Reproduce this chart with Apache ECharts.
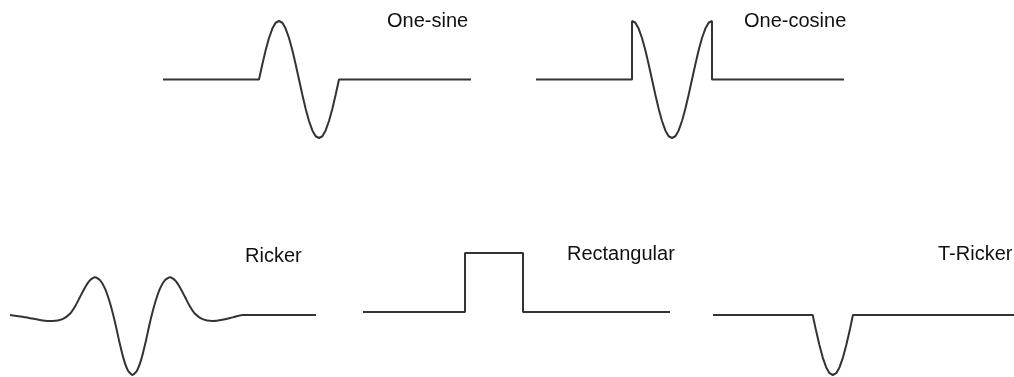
<!DOCTYPE html>
<html>
<head>
<meta charset="utf-8">
<title>Pulse shapes</title>
<script src="https://cdn.jsdelivr.net/npm/echarts@6/dist/echarts.min.js"></script>
<style>
    html, body {margin: 0; padding: 0; background: #fff;}
    #main {width: 1014px; height: 377px;}
</style>
</head>
<body>
<div id="main"></div>
<script>
// 各个波形的名字
var names = ['One-sine', 'One-cosine', 'Ricker', 'Rectangular', 'T-Ricker'];

// 时间轴长度 (每个小图一样, 单位随便)
var spans = [3.85, 3.85, 3.825, 3.8375, 3.85];

// 脉冲时段的采样时间
var pulseT = [1.2, 1.242, 1.283, 1.325, 1.367, 1.408, 1.45, 1.492, 1.533, 1.575, 1.617, 1.658, 1.7,
    1.742, 1.783, 1.825, 1.867, 1.908, 1.95, 1.992, 2.033, 2.075, 2.117, 2.158, 2.2];
var sineV = [0, 0.26, 0.5, 0.71, 0.87, 0.97, 1, 0.97, 0.87, 0.71, 0.5, 0.26, 0,
    -0.26, -0.5, -0.71, -0.87, -0.97, -1, -0.97, -0.87, -0.71, -0.5, -0.26, 0];
var cosineV = [1, 0.97, 0.87, 0.71, 0.5, 0.26, 0, -0.26, -0.5, -0.71, -0.87, -0.97, -1,
    -0.97, -0.87, -0.71, -0.5, -0.26, 0, 0.26, 0.5, 0.71, 0.87, 0.97, 1];

// Ricker 点
var rickerT = [0, 0.156, 0.281, 0.406, 0.531, 0.656, 0.756, 0.8125, 0.875, 0.9375, 1.0, 1.0625,
    1.125, 1.1875, 1.25, 1.3125, 1.369, 1.422, 1.476, 1.531, 1.586, 1.641, 1.694, 1.75, 1.8125,
    1.875, 1.9375, 2.0, 2.0625, 2.125, 2.1875, 2.25, 2.306, 2.406, 2.531, 2.656, 2.781, 2.906, 3.825];
var rickerV = [0, -0.03, -0.06, -0.09, -0.1, -0.07, 0.03, 0.14, 0.3, 0.46, 0.58, 0.63,
    0.58, 0.44, 0.2, -0.12, -0.46, -0.74, -0.93, -1, -0.93, -0.74, -0.46, -0.12, 0.2,
    0.44, 0.58, 0.63, 0.58, 0.46, 0.3, 0.14, 0.03, -0.07, -0.1, -0.08, -0.04, 0, 0];

// 矩形脉冲
var rectT = [0, 1.275, 1.275, 2.0, 2.0, 3.8375];
var rectV = [0, 0, 1, 1, 0, 0];

// T-Ricker 单个负半波
var tRickerT = [1.275, 1.318, 1.361, 1.404, 1.447, 1.49, 1.533, 1.576, 1.619, 1.662, 1.705, 1.748, 1.79];
var tRickerV = [0, -0.26, -0.5, -0.71, -0.87, -0.97, -1, -0.97, -0.87, -0.71, -0.5, -0.26, 0];

function zip(ts, vs) {
    var arr = [];
    for (var i = 0; i < ts.length; i++) {
        arr.push([ts[i], vs[i]]);
    }
    return arr;
}

// 前后加上零线
function padded(ts, vs, span, jump) {
    var arr = [[0, 0]];
    if (jump) arr.push([ts[0], 0]);
    arr = arr.concat(zip(ts, vs));
    if (jump) arr.push([ts[ts.length - 1], 0]);
    arr.push([span, 0]);
    return arr;
}

var seriesData = [
    padded(pulseT, sineV, spans[0], false),
    padded(pulseT, cosineV, spans[1], true),
    zip(rickerT, rickerV),
    zip(rectT, rectV),
    padded(tRickerT, tRickerV, spans[4], false)
];

var grids = [
    {left: 163, top: 21, width: 308, height: 117},
    {left: 536, top: 21, width: 308, height: 117},
    {left: 10, top: 255, width: 306, height: 120},
    {left: 363, top: 253, width: 307, height: 118},
    {left: 713, top: 255, width: 308, height: 120}
];

// 文字位置
var labelPos = [[387, 11], [744, 11], [245, 246], [567, 244], [938, 244]];

var myChart = echarts.init(document.getElementById('main'));

var option = {
    animation: false,
    backgroundColor: '#fff',
    title: [],
    grid: [],
    xAxis: [],
    yAxis: [],
    series: []
};

for (var i = 0; i < names.length; i++) {
    option.title.push({
        text: names[i],
        left: labelPos[i][0],
        top: labelPos[i][1],
        padding: 0,
        textStyle: {
            fontFamily: 'Liberation Sans',
            fontSize: 20,
            fontWeight: 'normal',
            color: '#111'
        }
    });
    option.grid.push(grids[i]);
    option.xAxis.push({type: 'value', gridIndex: i, min: 0, max: spans[i], show: false});
    option.yAxis.push({type: 'value', gridIndex: i, min: -1, max: 1, show: false});
    option.series.push({
        name: names[i],
        type: 'line',
        xAxisIndex: i,
        yAxisIndex: i,
        data: seriesData[i],
        symbol: 'none',
        clip: false,
        smooth: i === 2 ? 0.2 : false,
        lineStyle: {color: '#333', width: 2}
    });
}

myChart.setOption(option);
</script>
</body>
</html>
